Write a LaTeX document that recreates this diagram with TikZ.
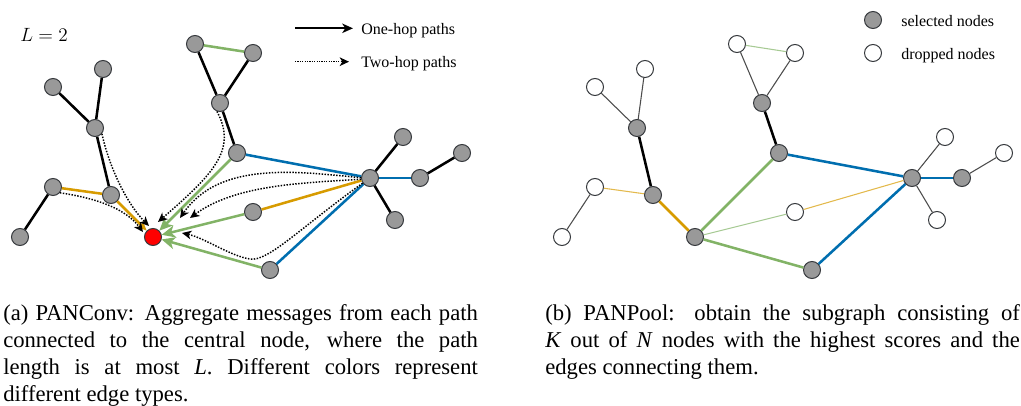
\documentclass[tikz,border=0pt]{standalone}
\usepackage[no-math]{fontspec}
\setmainfont{Liberation Serif}
\usetikzlibrary{arrows.meta}
\definecolor{gr}{HTML}{82B366}
\definecolor{og}{HTML}{D79B00}
\definecolor{bl}{HTML}{006EAF}
\definecolor{ng}{HTML}{999999}
\definecolor{ns}{HTML}{36393D}
\tolerance=10000
\hbadness=10000
\tikzset{
  nd/.style={circle, draw=ns, fill=ng, line width=0.75pt, minimum size=12.75pt, inner sep=0pt},
  wn/.style={nd, fill=white},
  rn/.style={nd, fill=red},
  ed/.style={line width=1.9pt},
  blk/.style={ed, draw=black},
  grn/.style={ed, draw=gr},
  org/.style={ed, draw=og},
  blu/.style={ed, draw=bl},
  thn/.style={line width=0.8pt, draw=black!70},
  thngr/.style={line width=0.8pt, draw=gr!70!white},
  thnog/.style={line width=0.8pt, draw=og!70!white},
  garrow/.style={grn, -{Stealth[length=10pt,width=9pt,inset=2.8pt]}},
  oarrow/.style={org, -{Stealth[length=7pt,width=6pt,inset=2pt]}},
  hop/.style={draw=black, line width=1.1pt, dash pattern=on 1.1pt off 1.1pt, -{Stealth[length=7pt,width=6.5pt,inset=2pt]}},
  onehop/.style={draw=black, line width=1.5pt, -{Stealth[length=8pt,width=7pt,inset=2.2pt]}},
  lbl/.style={font=\fontsize{12}{14}\selectfont, anchor=base west, inner sep=0pt},
  captxt/.style={font=\fontsize{17}{20.25}\selectfont, text width=356pt, align=justify, anchor=north west, inner sep=0pt},
}
\begin{document}
\begin{tikzpicture}[x=0.75pt,y=-0.75pt]
\useasboundingbox (0,0) rectangle (1021,406);

% ---------- left panel nodes ----------
\node[nd] (a1) at (53,87) {};
\node[nd] (a2) at (103,69) {};
\node[nd] (a3) at (95,128) {};
\node[nd] (a4) at (111,195) {};
\node[nd] (a5) at (53,187) {};
\node[nd] (a6) at (20,237) {};
\node[rn] (r) at (153,237) {};
\node[nd] (b1) at (195,44) {};
\node[nd] (b2) at (253,53) {};
\node[nd] (b3) at (220,103) {};
\node[nd] (b4) at (237,153) {};
\node[nd] (c) at (370,178) {};
\node[nd] (d1) at (403,137) {};
\node[nd] (d2) at (420,178) {};
\node[nd] (d3) at (462,153) {};
\node[nd] (d4) at (395,220) {};
\node[nd] (e) at (253,212) {};
\node[nd] (f) at (270,270) {};

% edges left
\draw[blk] (a1) -- (a3);
\draw[blk] (a2) -- (a3);
\draw[blk] (a3) -- (a4);
\draw[blk] (a5) -- (a6);
\draw[blk] (b1) -- (b3);
\draw[blk] (b2) -- (b3);
\draw[blk] (b3) -- (b4);
\draw[blk] (c) -- (d1);
\draw[blk] (c) -- (d4);
\draw[blk] (d2) -- (d3);
\draw[grn] (b1) -- (b2);
\draw[org] (a5) -- (a4);
\draw[org] (e) -- (c);
\draw[blu] (b4) -- (c);
\draw[blu] (c) -- (d2);
\draw[blu] (f) -- (c);
\draw[oarrow] (a4) -- (r);
\draw[garrow] (b4) -- (r);
\draw[garrow] (e) -- (r);
\draw[garrow] (f) -- (r);

% two-hop paths
\coordinate (t1) at (149,226);
\coordinate (t2) at (143,232);
\coordinate (t3) at (158,222);
\coordinate (t4) at (180,218);
\coordinate (t5) at (190,218);
\coordinate (t6) at (182,233);
\coordinate (m6) at (250,259);
\draw[hop] (a3.-40) .. controls (110,170) and (128,205) .. (t1);
\draw[hop] (a5.-40) .. controls (95,198) and (125,208) .. (t2);
\draw[hop] (b3.250) .. controls (238,150) and (212,175) .. (t3);
\draw[hop] (c.178) .. controls (300,172) and (220,160) .. (t4);
\draw[hop] (c.188) .. controls (300,183) and (235,185) .. (t5);
\draw[hop] (c.215) .. controls (300,228) and (268,262) .. (m6) .. controls (230,256) and (205,238) .. (t6);

% legend left
\node[anchor=base west, inner sep=0pt, font=\fontsize{14.4}{17}\selectfont] (Ltxt) at (20,41.7) {$L=2$};
\coordinate (l1a) at (295,28.3);
\coordinate (l1b) at (353,28.3);
\draw[onehop] (l1a) -- (l1b);
\node[lbl] (l1t) at (361,34.5) {One-hop paths};
\coordinate (l2a) at (295,61.7);
\coordinate (l2b) at (349,61.7);
\draw[hop, line width=0.9pt, dash pattern=on 0.9pt off 0.9pt] (l2a) -- (l2b);
\node[lbl] (l2t) at (361,68) {Two-hop paths};

% ---------- right panel nodes ----------
\node[wn] (A1) at (595,87) {};
\node[wn] (A2) at (645,69) {};
\node[nd] (A3) at (637,128) {};
\node[nd] (A4) at (653,195) {};
\node[wn] (A5) at (595,187) {};
\node[wn] (A6) at (562,237) {};
\node[nd] (R) at (695,237) {};
\node[wn] (B1) at (737,44) {};
\node[wn] (B2) at (795,53) {};
\node[nd] (B3) at (762,103) {};
\node[nd] (B4) at (779,153) {};
\node[nd] (C) at (912,178) {};
\node[wn] (D1) at (945,137) {};
\node[nd] (D2) at (962,178) {};
\node[wn] (D3) at (1004,153) {};
\node[wn] (D4) at (937,220) {};
\node[wn] (E) at (795,212) {};
\node[nd] (F) at (812,270) {};

% edges right
\draw[thn] (A1) -- (A3);
\draw[thn] (A2) -- (A3);
\draw[thn] (A5) -- (A6);
\draw[thn] (B1) -- (B3);
\draw[thn] (B2) -- (B3);
\draw[thn] (C) -- (D1);
\draw[thn] (D2) -- (D3);
\draw[thn] (C) -- (D4);
\draw[thngr] (B1) -- (B2);
\draw[thngr] (R) -- (E);
\draw[thnog] (A5) -- (A4);
\draw[thnog] (E) -- (C);
\draw[blk] (A3) -- (A4);
\draw[blk] (B3) -- (B4);
\draw[org] (A4) -- (R);
\draw[grn] (B4) -- (R);
\draw[grn] (F) -- (R);
\draw[blu] (B4) -- (C);
\draw[blu] (F) -- (C);
\draw[blu] (C) -- (D2);

% legend right
\node[nd] (ls) at (873,20) {};
\node[wn] (ld) at (873,53) {};
\node[lbl] (lst) at (901,26.7) {selected nodes};
\node[lbl] (ldt) at (901,60) {dropped nodes};

% captions
\node[captxt] (capa) at (3,304.5) {(a) PANConv: Aggregate messages from each path\linebreak connected to the central node, where the path\linebreak length is at most \textit{L}. Different colors represent\linebreak different edge types.};
\node[captxt] (capb) at (545,304.5) {(b) PANPool: obtain the subgraph consisting of\linebreak \textit{K} out of \textit{N} nodes with the highest scores and the\linebreak edges connecting them.};
\end{tikzpicture}
\end{document}
